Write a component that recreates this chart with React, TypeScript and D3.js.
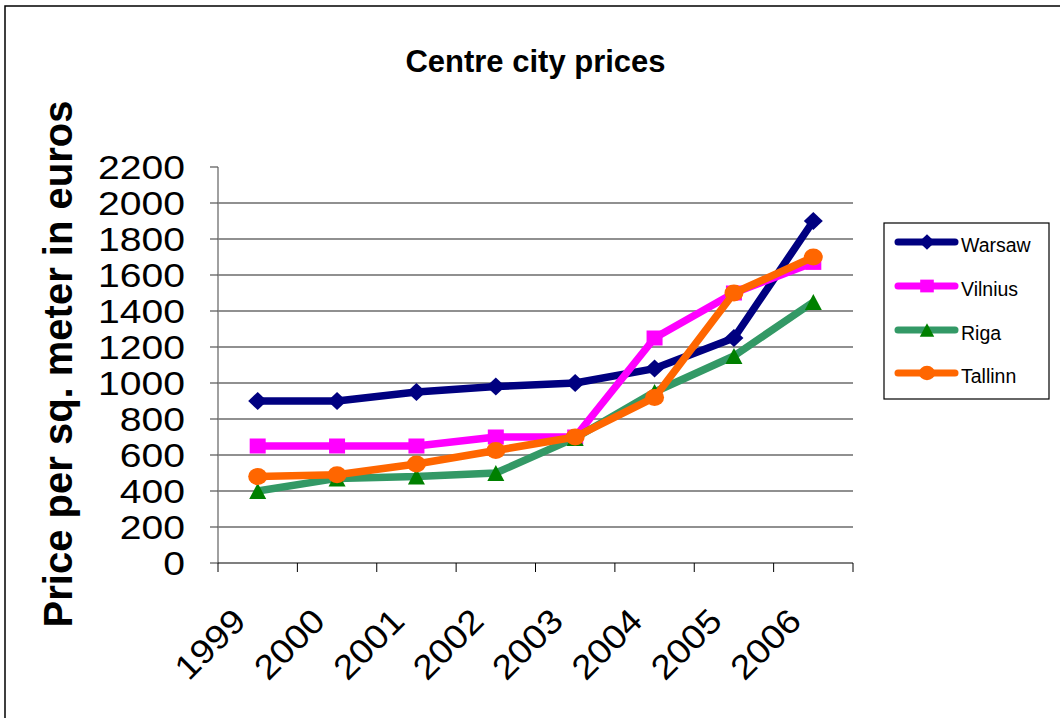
import React from "react";
import * as d3 from "d3";

const years = ["1999", "2000", "2001", "2002", "2003", "2004", "2005", "2006"];
const warsaw = [900, 900, 950, 980, 1000, 1080, 1250, 1900];
const vilnius = [650, 650, 650, 700, 700, 1250, 1500, 1670];
const riga = [400, 470, 480, 500, 695, 950, 1150, 1450];
const tallinn = [480, 490, 550, 625, 700, 920, 1500, 1700];
const yTicks = [0, 200, 400, 600, 800, 1000, 1200, 1400, 1600, 1800, 2000, 2200];
const seriesNames = ["Warsaw", "Vilnius", "Riga", "Tallinn"];

type Shape = "diamond" | "square" | "triangle" | "circle";
const series = [
  { name: seriesNames[0], values: warsaw, line: "#000080", marker: "#000080", shape: "diamond" as Shape },
  { name: seriesNames[1], values: vilnius, line: "#FF00FF", marker: "#FF00FF", shape: "square" as Shape },
  { name: seriesNames[2], values: riga, line: "#339966", marker: "#008000", shape: "triangle" as Shape },
  { name: seriesNames[3], values: tallinn, line: "#FF6600", marker: "#FF6600", shape: "circle" as Shape },
];

const FONT = "'Liberation Sans', Arial, sans-serif";

function Marker({ shape, cx, cy, color, s }: { shape: Shape; cx: number; cy: number; color: string; s: number }) {
  if (shape === "diamond") {
    const w = 9.5 * s, h = 9 * s;
    return <path d={`M${cx},${cy - h}L${cx + w},${cy}L${cx},${cy + h}L${cx - w},${cy}Z`} fill={color} />;
  }
  if (shape === "square") {
    const w = 8 * s, h = 7.5 * s;
    return <rect x={cx - w} y={cy - h} width={2 * w} height={2 * h} fill={color} />;
  }
  if (shape === "triangle") {
    const w = 8.5 * s, h = 8 * s;
    return <path d={`M${cx},${cy - h}L${cx + w},${cy + h}L${cx - w},${cy + h}Z`} fill={color} />;
  }
  return <ellipse cx={cx} cy={cy} rx={9.5 * s} ry={8.5 * s} fill={color} />;
}

export default function App() {
  const x = d3.scaleBand<string>().domain(years).range([218, 853]).padding(0);
  const y = d3.scaleLinear().domain([0, 2200]).range([563, 167]);
  const bw = x.bandwidth();
  const cx = (yr: string) => (x(yr) as number) + bw / 2;
  const line = d3
    .line<number>()
    .x((_, i) => cx(years[i]))
    .y((v) => y(v));
  const tickXs = years.map((yr) => x(yr) as number).concat([853]);
  const legendY = [242, 286, 330, 373];

  return (
    <svg width={1060} height={718} style={{ position: "absolute", left: 0, top: 0, background: "#fff" }}>
      <rect x={0} y={0} width={1060} height={718} fill="#fff" />
      <rect x={5} y={6} width={1200} height={800} fill="none" stroke="#000" strokeWidth={1.5} />
      <text x={535.5} y={72} textAnchor="middle" fontFamily={FONT} fontWeight="bold" fontSize={31}>
        Centre city prices
      </text>
      {/* gridlines */}
      {yTicks.filter((t) => t > 0 && t < 2200).map((t) => (
        <line key={t} x1={218} x2={853} y1={y(t)} y2={y(t)} stroke="#222" strokeWidth={1.2} />
      ))}
      {/* y axis */}
      <line x1={218} x2={218} y1={167} y2={563} stroke="#808080" strokeWidth={1.5} />
      {yTicks.map((t) => (
        <line key={"t" + t} x1={210} x2={218} y1={y(t)} y2={y(t)} stroke="#555" strokeWidth={1.2} />
      ))}
      {yTicks.map((t) => (
        <text
          key={"l" + t}
          transform={`translate(185,${y(t) + 12}) scale(1.15,1)`}
          textAnchor="end"
          fontFamily={FONT}
          fontSize={34}
        >
          {t}
        </text>
      ))}
      {/* x axis */}
      <line x1={218} x2={853} y1={563} y2={563} stroke="#000" strokeWidth={1.2} />
      {tickXs.map((tx, i) => (
        <line key={"xt" + i} x1={tx} x2={tx} y1={563} y2={572} stroke="#000" strokeWidth={1} />
      ))}
      {years.map((yr) => (
        <text
          key={"xl" + yr}
          transform={`translate(${cx(yr) - 10},623) rotate(-45) scale(1.1,1)`}
          textAnchor="end"
          fontFamily={FONT}
          fontSize={34}
        >
          {yr}
        </text>
      ))}
      {/* axis title */}
      <text
        transform={`translate(72,364) rotate(-90)`}
        textAnchor="middle"
        fontFamily={FONT}
        fontWeight="bold"
        fontSize={40}
      >
        Price per sq. meter in euros
      </text>
      {/* series */}
      {series.map((s) => (
        <g key={s.name}>
          <path d={line(s.values) || ""} fill="none" stroke={s.line} strokeWidth={7.5} strokeLinejoin="round" />
          {s.values.map((v, i) => (
            <Marker key={i} shape={s.shape} cx={cx(years[i])} cy={y(v)} color={s.marker} s={1} />
          ))}
        </g>
      ))}
      {/* legend */}
      <rect x={884} y={223} width={165} height={176} fill="#fff" stroke="#000" strokeWidth={1.2} />
      {series.map((s, i) => (
        <g key={"lg" + s.name}>
          <line x1={898} x2={955} y1={legendY[i]} y2={legendY[i]} stroke={s.line} strokeWidth={7} strokeLinecap="round" />
          <Marker shape={s.shape} cx={927} cy={legendY[i]} color={s.marker} s={0.85} />
          <text x={961} y={legendY[i] + 10} fontFamily={FONT} fontSize={19.5}>
            {s.name}
          </text>
        </g>
      ))}
    </svg>
  );
}
